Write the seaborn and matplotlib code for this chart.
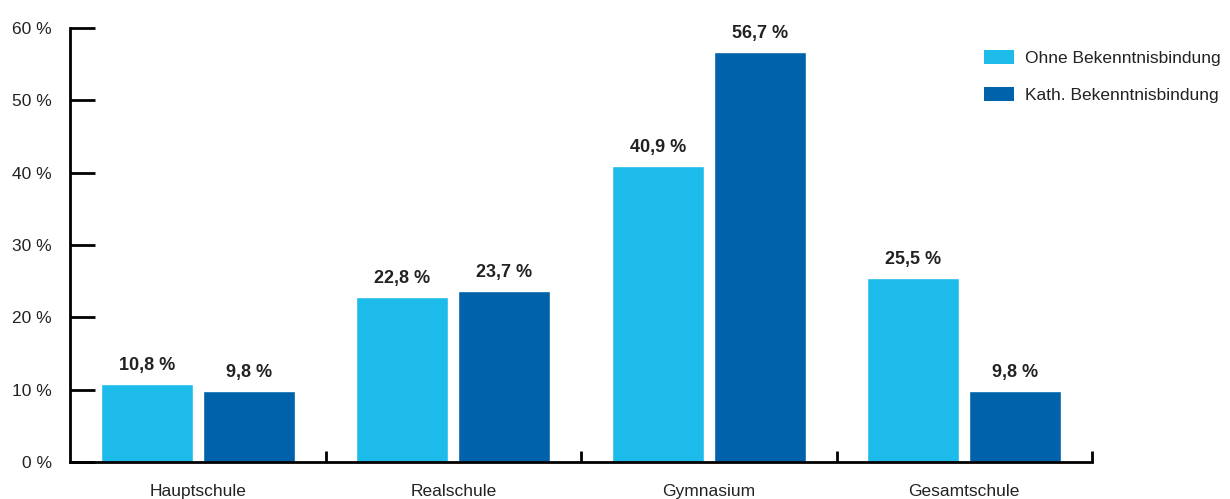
import pandas as pd
import seaborn as sns
import matplotlib.pyplot as plt
from matplotlib.patches import Patch

# Data
schulformen = ["Hauptschule", "Realschule", "Gymnasium", "Gesamtschule"]
gruppen = ["Ohne Bekenntnisbindung", "Kath. Bekenntnisbindung"]
ohne = [10.8, 22.8, 40.9, 25.5]
kath = [9.8, 23.7, 56.7, 9.8]
y_ticks = [0, 10, 20, 30, 40, 50, 60]

farben = ["#1DBBEA", "#0062AA"]

df = pd.DataFrame({
    "schulform": schulformen * 2,
    "gruppe": [gruppen[0]] * 4 + [gruppen[1]] * 4,
    "wert": ohne + kath,
})

sns.set_style("white")
plt.rcParams["font.family"] = ["Liberation Sans", "DejaVu Sans"]
text_col = "#222222"
fs = 12.5

fig = plt.figure(figsize=(12.3, 4.99), dpi=100)
ax = fig.add_axes([70 / 1230, 37 / 499, 1022 / 1230, 434 / 499])

sns.barplot(data=df, x="schulform", y="wert", hue="gruppe", order=schulformen,
            hue_order=gruppen, palette=farben, width=0.8, gap=0.1,
            saturation=1, legend=False, ax=ax)

# value labels
for cont in ax.containers:
    ax.bar_label(cont, labels=[f"{v:.1f} %".replace(".", ",") for v in cont.datavalues],
                 padding=7, fontsize=13, fontweight="bold", color=text_col)

ax.set_xlim(-0.5, 3.5)
ax.set_ylim(0, 60)
ax.set_xlabel("")
ax.set_ylabel("")

ax.set_yticks(y_ticks)
ax.set_yticklabels([f"{t} %" for t in y_ticks])
ax.tick_params(axis="y", left=True, direction="in", length=18, width=2, pad=13,
               labelsize=fs, labelcolor=text_col, color="black")

ax.set_xticks(range(4))
ax.set_xticklabels(schulformen)
ax.tick_params(axis="x", which="major", bottom=True, length=0, pad=16, labelsize=fs,
               labelcolor=text_col)
ax.set_xticks([0.5, 1.5, 2.5, 3.5], minor=True)
ax.tick_params(axis="x", which="minor", bottom=True, direction="in", length=8, width=2,
               color="black")

for s in ["top", "right"]:
    ax.spines[s].set_visible(False)
for s in ["left", "bottom"]:
    ax.spines[s].set_linewidth(2)
    ax.spines[s].set_color("black")

handles = [Patch(facecolor=c, edgecolor="none") for c in farben]
fig.legend(handles, gruppen, loc="upper left", bbox_to_anchor=(968 / 1230, 1 - 34 / 499),
           frameon=False, fontsize=fs, handlelength=1.75, handleheight=0.9,
           handletextpad=0.65, labelspacing=1.2, labelcolor=text_col)

fig.savefig("out.png", dpi=100)
plt.close()
